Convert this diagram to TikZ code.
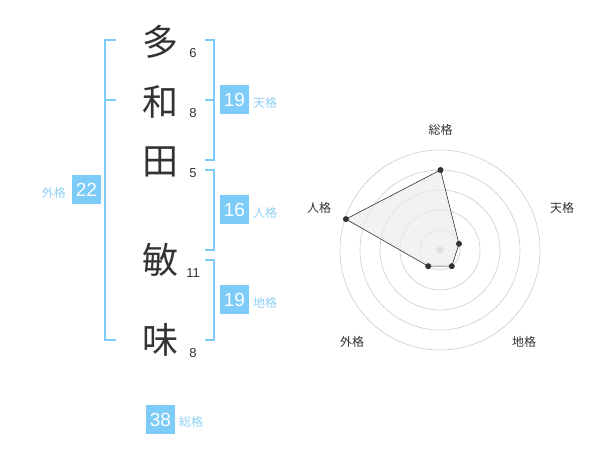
\documentclass[tikz,border=0pt]{standalone}
\usepackage{fontspec}
\setmainfont{Liberation Sans}
\newfontfamily\cjk{Noto Sans CJK JP}
\definecolor{sky}{HTML}{7DCBF8}
\definecolor{skytext}{HTML}{8FD0F5}
\definecolor{ink}{HTML}{333333}
\definecolor{ring}{HTML}{CCCCCC}
\begin{document}
\begin{tikzpicture}[x=1pt,y=-1pt,
  bracket/.style={draw=sky,line width=1.6pt},
  big/.style={font=\cjk\fontsize{36}{36}\selectfont,text=ink,inner sep=0pt},
  stroke/.style={font=\fontsize{13}{13}\selectfont,text=ink,inner sep=0pt},
  valbox/.style={fill=sky,text=white,minimum width=29pt,minimum height=29pt,inner sep=0pt,font=\fontsize{19}{19}\selectfont},
  grade/.style={text=skytext,font=\cjk\fontsize{12}{12}\selectfont,inner sep=0pt},
  axlabel/.style={text=ink,font=\cjk\fontsize{12}{12}\selectfont,inner sep=0pt},
  dot/.style={circle,fill=ink,inner sep=0pt,minimum size=6pt}]
\useasboundingbox (0,0) rectangle (600,470);
% big characters
\node[big] (c1) at (160,42) {多};
\node[big] (c2) at (160,102) {和};
\node[big] (c3) at (160,162) {田};
\node[big] (c4) at (160,260) {敏};
\node[big] (c5) at (160,340) {味};
% stroke counts
\node[stroke] (n1) at (193,53) {6};
\node[stroke] (n2) at (193,113) {8};
\node[stroke] (n3) at (193,173) {5};
\node[stroke] (n4) at (193,273) {11};
\node[stroke] (n5) at (193,353) {8};
% left bracket (外格)
\coordinate (l1) at (116,40);
\coordinate (l2) at (105,40);
\coordinate (l3) at (105,340);
\coordinate (l4) at (116,340);
\coordinate (lm1) at (105,100);
\coordinate (lm2) at (116,100);
\draw[bracket] (l1) -- (l2) -- (l3) -- (l4);
\draw[bracket] (lm1) -- (lm2);
% right brackets
\coordinate (t1) at (205,40);
\coordinate (t2) at (214,40);
\coordinate (t3) at (214,160);
\coordinate (t4) at (205,160);
\coordinate (tm1) at (205,100);
\coordinate (tm2) at (214,100);
\draw[bracket] (t1) -- (t2) -- (t3) -- (t4);
\draw[bracket] (tm1) -- (tm2);
\coordinate (h1) at (205,170);
\coordinate (h2) at (214,170);
\coordinate (h3) at (214,250);
\coordinate (h4) at (205,250);
\draw[bracket] (h1) -- (h2) -- (h3) -- (h4);
\coordinate (g1) at (205,260);
\coordinate (g2) at (214,260);
\coordinate (g3) at (214,340);
\coordinate (g4) at (205,340);
\draw[bracket] (g1) -- (g2) -- (g3) -- (g4);
% value boxes
\node[valbox] (b1) at (234.5,100) {19};
\node[grade,anchor=west] (k1) at (253,103) {天格};
\node[valbox] (b2) at (234.5,210) {16};
\node[grade,anchor=west] (k2) at (253,213) {人格};
\node[valbox] (b3) at (234.5,300) {19};
\node[grade,anchor=west] (k3) at (253,303) {地格};
\node[valbox] (b4) at (86.5,190) {22};
\node[grade,anchor=east] (k4) at (66,193) {外格};
\node[valbox] (b5) at (160.5,419.5) {38};
\node[grade,anchor=west] (k5) at (179,422) {総格};
% radar
\coordinate (ctr) at (440,250);
\foreach \r in {20,40,60,80,100} \draw[ring,line width=0.6pt] (ctr) circle[radius=\r];
\fill[ring] (ctr) circle[radius=3.5];
\coordinate (pS) at (440.5,170);
\coordinate (pT) at (459,243.8);
\coordinate (pC) at (451.8,266.2);
\coordinate (pG) at (428.2,266.2);
\coordinate (pJ) at (345.9,219.1);
\filldraw[fill=gray!15,fill opacity=0.7,draw=ink,line width=0.6pt] (pS) -- (pT) -- (pC) -- (pG) -- (pJ) -- cycle;
\node[dot] (dS) at (pS) {};
\node[dot] (dT) at (pT) {};
\node[dot] (dC) at (pC) {};
\node[dot] (dG) at (pG) {};
\node[dot] (dJ) at (pJ) {};
\node[axlabel] (aS) at (440.5,130) {総格};
\node[axlabel] (aT) at (562,208) {天格};
\node[axlabel] (aC) at (524,342) {地格};
\node[axlabel] (aG) at (352,342) {外格};
\node[axlabel] (aJ) at (319,208) {人格};
\end{tikzpicture}
\end{document}
